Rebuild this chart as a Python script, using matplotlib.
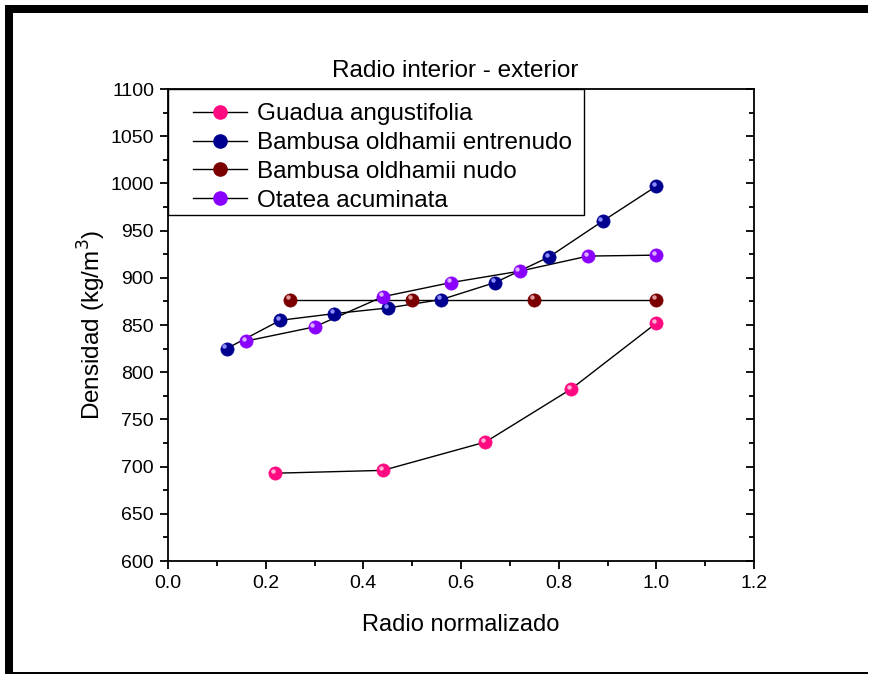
import numpy as np
import matplotlib
matplotlib.use('Agg')
import matplotlib.pyplot as plt
from matplotlib.transforms import ScaledTranslation
from matplotlib.patches import Rectangle
from matplotlib.ticker import MultipleLocator
from matplotlib.lines import Line2D
from matplotlib.legend_handler import HandlerLine2D

plt.rcParams['font.family'] = ['Liberation Sans', 'DejaVu Sans']

# datos
guadua_x = [0.22, 0.44, 0.65, 0.825, 1.0]
guadua_y = [693, 696, 726, 782, 852]

entrenudo_x = [0.12, 0.23, 0.34, 0.45, 0.56, 0.67, 0.78, 0.89, 1.0]
entrenudo_y = [825, 855, 862, 868, 877, 895, 922, 960, 997]

nudo_x = [0.25, 0.50, 0.75, 1.0]
nudo_y = [877, 877, 877, 877]

otatea_x = [0.16, 0.30, 0.44, 0.58, 0.72, 0.86, 1.0]
otatea_y = [833, 848, 880, 895, 907, 923, 924]

series = [
    ('Guadua angustifolia', guadua_x, guadua_y, '#ff0a80', '#ffb0d6'),
    ('Bambusa oldhamii entrenudo', entrenudo_x, entrenudo_y, '#00008f', '#8c8cff'),
    ('Bambusa oldhamii nudo', nudo_x, nudo_y, '#7a0000', '#e09a9a'),
    ('Otatea acuminata', otatea_x, otatea_y, '#8a00ff', '#dab0ff'),
]

W, H = 870, 674
fig = plt.figure(figsize=(W / 100 + 0.0001, H / 100 + 0.0001), dpi=100)

# marco negro de la imagen
for (x0, y0, w, h) in [(5, 5, 863, 8), (5, 5, 8, 669), (5, 672, 863, 2)]:
    fig.patches.append(Rectangle((x0 / W, 1 - (y0 + h) / H), w / W, h / H,
                                 transform=fig.transFigure, facecolor='black',
                                 edgecolor='none', lw=0, zorder=0))

ax = fig.add_axes([168 / W, 1 - 561 / H, 586 / W, 472 / H])

hl = ScaledTranslation(-1.6 / 72, 1.6 / 72, fig.dpi_scale_trans)
handles = []
for name, xs, ys, col, light in series:
    ax.plot(xs, ys, '-', color='black', lw=1.0, zorder=2)
    ax.plot(xs, ys, 'o', ms=9.5, mfc=col, mec=col, mew=0.5, zorder=3)
    ax.plot(xs, ys, 'o', ms=3.2, mfc=light, mec='none', zorder=4,
            transform=ax.transData + hl)
    handles.append(Line2D([], [], color='black', lw=1.0, marker='o', ms=9.5,
                          mfc=col, mec=col, label=name))

ax.set_xlim(0, 1.2)
ax.set_ylim(600, 1100)
ax.xaxis.set_major_locator(MultipleLocator(0.2))
ax.xaxis.set_minor_locator(MultipleLocator(0.1))
ax.yaxis.set_major_locator(MultipleLocator(50))
ax.yaxis.set_minor_locator(MultipleLocator(25))
ax.xaxis.set_major_formatter(plt.FuncFormatter(lambda v, p: f'{v:.1f}'))

ax.tick_params(which='both', direction='out', width=1.3, labelsize=14,
               top=False, right=False, color='black', pad=4)
ax.tick_params(which='major', length=6)
ax.tick_params(which='minor', length=3.5)
for sp in ax.spines.values():
    sp.set_linewidth(1.3)

# marcas del eje derecho hacia adentro
ax2 = ax.twinx()
ax2.set_ylim(600, 1100)
ax2.yaxis.set_major_locator(MultipleLocator(50))
ax2.yaxis.set_minor_locator(MultipleLocator(25))
ax2.tick_params(which='both', direction='in', width=1.3, labelright=False)
ax2.tick_params(which='major', length=6)
ax2.tick_params(which='minor', length=3.5)
for sp in ax2.spines.values():
    sp.set_visible(False)

ax.set_xlabel('Radio normalizado', fontsize=17, labelpad=16)
ax.set_ylabel('Densidad (kg/m$^3$)', fontsize=17.5, labelpad=2)
ax.set_title('Radio interior - exterior', fontsize=17.5, pad=9, x=0.49)

# leyenda sin marco + rectángulo aparte (el texto va algo más bajo que en matplotlib)
fs = 17.5
leg = ax.legend(handles=handles, loc='upper left', bbox_to_anchor=(0, 1 - 6 / 472),
                borderaxespad=0, fontsize=fs, frameon=False,
                handlelength=2.92, handletextpad=0.4,
                labelspacing=0.28, borderpad=0.34,
                handler_map={Line2D: HandlerLine2D(xpad=0.7)})
leg.set_zorder(5)
ax.add_patch(Rectangle((0, (561 - 215) / 472), (584 - 168) / 586, (215 - 89) / 472,
                       transform=ax.transAxes, facecolor='white', edgecolor='black',
                       lw=1.0, zorder=4.5, clip_on=False))

fig.savefig('out.png', dpi=100)
